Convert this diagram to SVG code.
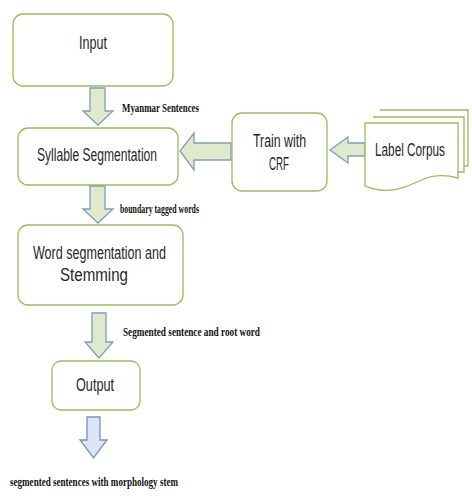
<svg xmlns="http://www.w3.org/2000/svg" width="472" height="496" viewBox="0 0 472 496">
<style>
.box{fill:#ffffff;stroke:#9bbb59;stroke-width:1.3}
.doc{fill:#ffffff;stroke:#9bbb59;stroke-width:1.3}
.t{font-family:"Liberation Sans",Arial,sans-serif;font-size:17.5px;fill:#262626;text-anchor:start}
.lbl{font-family:"Liberation Serif","Times New Roman",serif;font-weight:bold;font-size:13px;fill:#111111}
.ga{fill:#dfe9cb;stroke:#7f9dbd;stroke-width:1.3;stroke-linejoin:miter}
.ba{fill:#dbe5f3;stroke:#7094c4;stroke-width:1.3;stroke-linejoin:miter}
</style>
<rect width="472" height="496" fill="#ffffff"/>

<g id="connectors">
  <path class="ga" d="M90,88 H105 V111 H113 L98,125 L83,111 H90 Z"/>
  <path class="ga" d="M90,186 H105 V209 H113 L98,223 L83,209 H90 Z"/>
  <path class="ga" d="M92,313 H106 V342 H113 L99,358 L85,342 H92 Z"/>
  <path class="ba" d="M87,417 H100 V440 H107 L93.5,458 L80,440 H87 Z"/>
  <path class="ga" d="M231,143 V160 H194 V170 L180,151 L194,133 V143 Z"/>
  <path class="ga" d="M365,143 V156 H348 V163 L330,150 L348,137 V143 Z"/>
</g>

<g id="label-myanmar"><text class="lbl" x="122" y="112" textLength="77" lengthAdjust="spacingAndGlyphs">Myanmar Sentences</text></g>
<g id="label-boundary"><text class="lbl" x="120" y="213" font-size="11" textLength="79" lengthAdjust="spacingAndGlyphs">boundary tagged words</text></g>
<g id="label-segmented"><text class="lbl" x="123" y="336" textLength="137" lengthAdjust="spacingAndGlyphs">Segmented sentence and root word</text></g>
<g id="label-final"><text class="lbl" x="10" y="486" textLength="168" lengthAdjust="spacingAndGlyphs">segmented sentences with morphology stem</text></g>

<g id="input">
  <rect class="box" x="13" y="14" width="160" height="72" rx="10"/>
  <text class="t" x="79" y="49" textLength="28" lengthAdjust="spacingAndGlyphs">Input</text>
</g>

<g id="syllable">
  <rect class="box" x="18" y="128" width="160" height="57" rx="10"/>
  <text class="t" x="37" y="161" textLength="120" lengthAdjust="spacingAndGlyphs">Syllable Segmentation</text>
</g>

<g id="train">
  <rect class="box" x="232" y="113" width="95" height="78" rx="10"/>
  <text class="t" x="253" y="147" textLength="53" lengthAdjust="spacingAndGlyphs">Train with</text>
  <text class="t" x="269" y="170" textLength="20" lengthAdjust="spacingAndGlyphs">CRF</text>
</g>

<g id="corpus">
  <path class="doc" d="M380,110 H468 V166 H464"/>
  <path class="doc" d="M373,117 H464 V172 H458"/>
  <path class="doc" d="M365,123 H458 V178 C447,175 436,174 424,179 C408,186 396,192 380,190 C374,189 369,188 365,186 Z"/>
  <text class="t" x="375" y="156" font-size="14" textLength="70" lengthAdjust="spacingAndGlyphs">Label Corpus</text>
</g>

<g id="word">
  <rect class="box" x="18" y="225" width="165" height="80" rx="10"/>
  <text class="t" x="33" y="259" textLength="133" lengthAdjust="spacingAndGlyphs">Word segmentation and</text>
  <text class="t" x="60" y="281" textLength="68" lengthAdjust="spacingAndGlyphs">Stemming</text>
</g>

<g id="output">
  <rect class="box" x="52" y="361" width="88" height="49" rx="9"/>
  <text class="t" x="76" y="391" textLength="38" lengthAdjust="spacingAndGlyphs">Output</text>
</g>
</svg>
